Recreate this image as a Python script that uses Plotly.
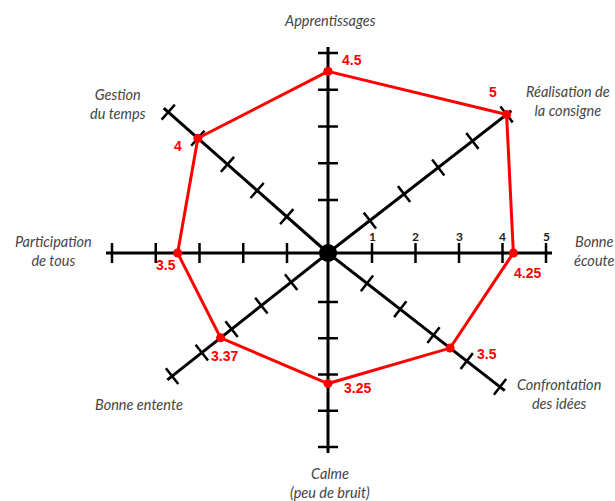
import math
import plotly.graph_objects as go

# ---------------- data ----------------
categories = ["Apprentissages", "Réalisation de<br>la consigne", "Bonne<br>écoute",
              "Confrontation<br>des idées", "Calme<br>(peu de bruit)", "Bonne entente",
              "Participation<br>de tous", "Gestion<br>du temps"]
values = [4.5, 5, 4.25, 3.5, 3.25, 3.37, 3.5, 4]
value_labels = ["4.5", "5", "4.25", "3.5", "3.25", "3.37", "3.5", "4"]
tick_values = [1, 2, 3, 4, 5]
tick_labels = ["1", "2", "3", "4", "5"]

# ---------------- geometry (page pixels) ----------------
W, H = 615, 501
CX, CY = 328, 253
# per axis: angle (deg, counter-clockwise from east), distance of tick 1, distance of tick 5
axis_angle = [90, 37.8, 0, -37.9, -90, 218.3, 180, 138.6]
axis_r1 = [53, 53, 44, 49.4, 49, 47, 41, 55]
axis_r5 = [200, 226, 218, 218, 194, 198.7, 216, 213]
label_offset = [(24, -11), (-14, -22), (14, 20), (37, 6), (29, 4), (4, 18), (-12, 12), (-20, 8)]
cat_pos = [(330, 20), (568, 101), (594, 251), (559, 394), (330, 483), (139, 404), (53, 251), (118, 104)]

def radius(i, v):
    r1, r5 = axis_r1[i], axis_r5[i]
    return r1 + (v - tick_values[0]) * (r5 - r1) / (tick_values[-1] - tick_values[0])

def point(i, r):
    a = math.radians(axis_angle[i])
    return CX + r * math.cos(a), CY - r * math.sin(a)

fig = go.Figure()

# axis lines
ax_x, ax_y = [], []
for i in range(len(categories)):
    ex, ey = point(i, axis_r5[i] + 6)
    ax_x += [CX, ex, None]
    ax_y += [CY, ey, None]
# tick marks
tk_x, tk_y = [], []
for i in range(len(categories)):
    a = math.radians(axis_angle[i])
    px, py = -math.sin(a), -math.cos(a)
    for t in tick_values:
        x, y = point(i, radius(i, t))
        tk_x += [x - 10 * px, x + 10 * px, None]
        tk_y += [y - 10 * py, y + 10 * py, None]

fig.add_trace(go.Scatter(x=ax_x, y=ax_y, mode="lines", line=dict(color="black", width=3),
                         hoverinfo="skip", showlegend=False))
fig.add_trace(go.Scatter(x=tk_x, y=tk_y, mode="lines", line=dict(color="black", width=2.5),
                         hoverinfo="skip", showlegend=False))
fig.add_trace(go.Scatter(x=[CX], y=[CY], mode="markers", marker=dict(color="black", size=18),
                         hoverinfo="skip", showlegend=False))

# data polygon
pts = [point(i, radius(i, v)) for i, v in enumerate(values)]
px_ = [p[0] for p in pts] + [pts[0][0]]
py_ = [p[1] for p in pts] + [pts[0][1]]
fig.add_trace(go.Scatter(x=px_, y=py_, mode="lines+markers",
                         line=dict(color="#ff0000", width=3),
                         marker=dict(color="#ff0000", size=9),
                         text=categories + [categories[0]], hoverinfo="text", showlegend=False))

annotations = []
for i, (p, lab) in enumerate(zip(pts, value_labels)):
    dx, dy = label_offset[i]
    annotations.append(dict(x=p[0] + dx, y=p[1] + dy, text="<b>%s</b>" % lab, showarrow=False,
                            font=dict(family="Liberation Sans, Arial", size=14, color="#ff0000"),
                            xanchor="center", yanchor="middle"))
# number labels on the east axis
for t, lab in zip(tick_values, tick_labels):
    x, y = point(2, radius(2, t))
    annotations.append(dict(x=x, y=y - 17, text="<b>%s</b>" % lab, showarrow=False,
                            font=dict(family="Lato, Liberation Sans", size=12, color="#222222"),
                            xanchor="center", yanchor="middle"))
# category labels
for (x, y), lab in zip(cat_pos, categories):
    annotations.append(dict(x=x, y=y, text="<i>%s</i>" % lab, showarrow=False, align="center",
                            font=dict(family="Lato, Open Sans", size=14.5, color="#454545"),
                            xanchor="center", yanchor="middle"))

fig.update_layout(
    width=W, height=H, margin=dict(l=0, r=0, t=0, b=0),
    paper_bgcolor="white", plot_bgcolor="white",
    xaxis=dict(range=[0, W], visible=False, fixedrange=True),
    yaxis=dict(range=[H, 0], visible=False, fixedrange=True),
    annotations=annotations,
)
fig.write_html("out.html", config={"displayModeBar": False},
               post_script="document.body.style.margin='0';document.body.style.overflow='hidden';")
